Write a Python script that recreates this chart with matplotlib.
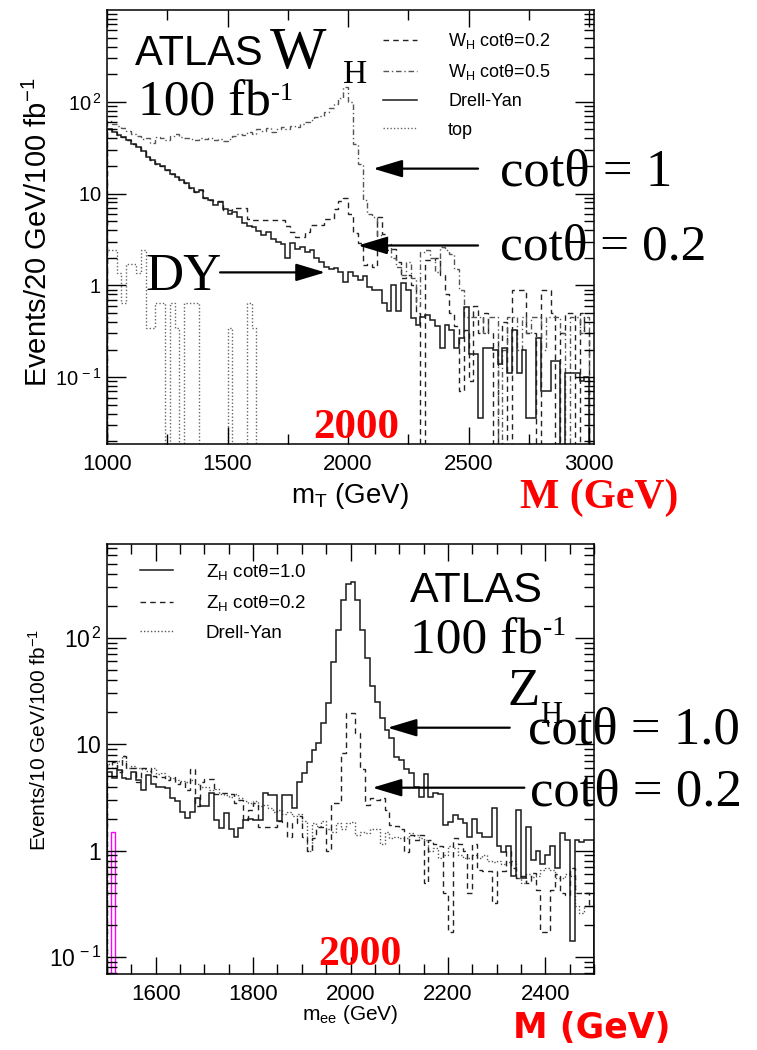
import numpy as np
import matplotlib.pyplot as plt
from matplotlib.lines import Line2D
from matplotlib.ticker import FixedLocator, FixedFormatter, MultipleLocator, LogLocator, NullFormatter

# ---- top panel: W_H -> e nu, m_T, 20 GeV bins from 1000 to 3000 ----
edges_wh = np.arange(1000, 3001, 20)

dy_wh = [51, 47, 44, 41, 38, 35, 32, 29, 25, 23,
         21, 20, 18, 16.5, 15, 14, 13, 11.5, 10.5, 11,
         9.0, 8.5, 7.5, 8.0, 6.8, 6.0, 6.3, 5.5, 4.8, 4.4,
         4.3, 3.9, 3.5, 3.8, 3.2, 3.0, 2.8, 2.0, 2.9, 2.5,
         2.6, 2.3, 2.4, 2.0, 1.8, 1.6, 1.5, 1.55, 1.4, 1.1,
         1.4, 1.25, 1.15, 1.25, 0.95, 0.88, 0.88, 0.65, 0.52, 1.0,
         0.52, 1.07, 0.9, 0.44, 0.37, 0.45, 0.48, 0.42, 0.36, 0.21,
         0.37, 0.33, 0.21, 0.27, 0.58, 0.18, 0.18, 0.036, 0.21, 0.21,
         0.2, 0.14, 0.21, 0.11, 0.33, 0.11, 0.2, 0.036, 0.036, 0.27,
         0.07, 0.07, 0.15, 0.15, 0, 0.11, 0.11, 0.11, 0.09, 0.1]

wh_cot05 = [62, 58, 55, 52, 48, 45, 42, 39, 40, 36,
            41, 40, 38, 42, 45, 41, 40, 39, 38, 40,
            39, 40, 38, 39, 37, 39, 42, 45, 44, 47,
            45, 50, 48, 52, 47, 50, 53, 51, 55, 53,
            57, 60, 64, 68, 70, 78, 85, 95, 110, 145,
            100, 35, 21, 8.5, 6, 5.5, 3.5, 2.6, 2.8, 2.0,
            1.6, 1.3, 1.8, 1.2, 0.6, 2.3, 2.4, 2.0, 1.4, 2.6,
            2.4, 2.2, 1.5, 0.9, 0.45, 0.45, 0.45, 0.45, 0.3, 0.45,
            0.45, 0, 0.2, 0.45, 0.45, 0.2, 0.45, 0.3, 0.45, 0.45,
            0.2, 0.45, 0.45, 0.45, 0.3, 0, 0.45, 0.45, 0.3, 0.45]

wh_cot02 = [51, 47, 44, 41, 38, 35, 32, 29, 25, 23,
            21, 20, 18, 16.5, 15, 14, 13, 11.5, 10.5, 11,
            9.0, 8.5, 8.4, 8.4, 6.7, 6.7, 6.9, 6.9, 6.9, 5.3,
            5.1, 5.1, 5.1, 5.1, 5.1, 5.1, 5.1, 4.4, 3.8, 3.4,
            3.4, 3.8, 4.5, 4.5, 4.5, 5.3, 5.3, 6.8, 8.4, 9.0,
            6.0, 3.7, 2.9, 1.65, 1.7, 1.6, 5.5, 3.6, 2.4, 2.5,
            1.8, 1.2, 1.3, 1.0, 0.5, 0, 1.9, 1.9, 2.0, 1.3,
            0.8, 0.5, 0.36, 0.07, 0.33, 0.09, 0.6, 0.3, 0.5, 0.3,
            0, 0.25, 0.4, 0, 0.9, 0.9, 0.9, 0.3, 0.3, 0,
            0.9, 0.9, 0.5, 0, 0.3, 0.5, 0.5, 0, 0.5, 0.3]

top_wh = [2.4, 2.4, 1.35, 0.65, 1.7, 1.7, 1.35, 2.4, 0.34, 0.34,
          0.65, 0.65, 0, 0.65, 0.34, 0, 0.65, 0.65, 0.65, 0,
          0, 0, 0, 0, 0, 0.34, 0, 0, 0, 0.65,
          0.34] + [0] * 69

# ---- bottom panel: Z_H -> ee, m_ee, 10 GeV bins from 1500 to 2500 ----
edges_zh = np.arange(1500, 2501, 10)

zh_cot10 = [5.5, 4.8, 5.7, 4.8, 4.7, 5.5, 4.6, 3.7, 5.1, 4.2,
            4.0, 4.0, 3.9, 3.15, 2.9, 2.3, 2.04, 2.3, 3.1, 2.6,
            2.6, 3.5, 1.95, 1.64, 2.25, 1.6, 1.35, 1.64, 1.95, 2.0,
            1.95, 1.95, 3.5, 3.3, 3.3, 1.9, 3.3, 3.3, 2.5, 4.4,
            5.4, 6.8, 8.9, 10.3, 15.9, 24.5, 59, 119, 228, 320,
            335, 228, 119, 65, 35, 25, 17.7, 13.7, 11.5, 7.6,
            7.1, 5.8, 5.4, 4.0, 3.2, 5.3, 3.2, 3.5, 3.4, 1.75,
            1.85, 2.15, 2.0, 1.8, 1.35, 2.0, 1.45, 1.35, 1.35, 2.5,
            1.1, 0.96, 1.1, 0.57, 2.4, 0.55, 1.65, 0.82, 1.0, 0.75,
            0.9, 1.1, 0.69, 1.47, 1.25, 0.14, 1.25, 1.2, 1.25, 1.25]

zh_cot02 = [6.5, 6.8, 5.5, 7.7, 6.0, 6.0, 4.4, 6.0, 6.0, 5.0,
            4.9, 4.9, 4.6, 4.9, 4.2, 4.4, 3.7, 5.8, 2.6, 4.4,
            4.7, 4.7, 3.4, 3.5, 3.5, 3.4, 2.8, 3.0, 1.95, 2.4,
            2.8, 1.65, 1.65, 1.65, 1.65, 1.9, 1.85, 1.33, 1.8, 2.1,
            1.33, 1.0, 1.3, 1.65, 1.65, 1.0, 2.8, 2.8, 8.3, 19.7,
            19.7, 12.8, 5.8, 2.7, 3.1, 3.0, 3.1, 2.4, 1.75, 1.7,
            1.6, 0.96, 1.4, 1.25, 1.4, 0.5, 1.25, 1.15, 1.1, 0.4,
            0.17, 1.3, 1.15, 1.0, 0.4, 1.15, 0.66, 0.64, 0.64, 0.32,
            0.64, 0.64, 1.0, 0.68, 0.55, 0.58, 0.5, 0.62, 0.43, 0.17,
            0.17, 0.43, 0.6, 0.4, 0.38, 0.68, 0.4, 0.4, 0.4, 0.3]

dy_zh = [6.5, 6.0, 7.0, 7.7, 6.0, 6.2, 6.0, 5.8, 5.6, 6.0,
         5.2, 5.4, 5.0, 4.8, 4.6, 4.5, 4.4, 4.6, 4.2, 4.0,
         4.0, 3.7, 3.8, 3.4, 3.3, 3.2, 3.4, 3.1, 2.9, 2.8,
         2.9, 2.6, 2.7, 2.5, 2.3, 2.4, 2.2, 2.3, 2.1, 2.2,
         1.9, 1.0, 1.8, 1.7, 1.9, 1.6, 1.5, 1.8, 1.6, 1.8,
         1.85, 1.4, 1.5, 1.45, 1.6, 1.6, 1.15, 1.5, 1.3, 1.35,
         1.3, 1.3, 1.45, 1.4, 1.3, 1.25, 1.0, 1.05, 0.85, 0.9,
         1.1, 1.05, 0.9, 0.85, 0.85, 0.9, 0.85, 0.9, 0.8, 0.78,
         0.8, 0.75, 0.78, 0.8, 0.55, 0.5, 0.6, 0.56, 0.58, 0.65,
         0.68, 0.66, 0.55, 0.55, 0.6, 0.58, 0.3, 0.26, 0.3, 0.3]

# stray magenta bin at the left edge of the lower plot
magenta_edges = [1508, 1516]
magenta_val = [1.5]

plt.rcParams.update({
    'font.family': ['Liberation Sans', 'DejaVu Sans'],
    'mathtext.fontset': 'custom',
    'mathtext.rm': 'Liberation Sans',
    'mathtext.it': 'Liberation Sans:italic',
    'mathtext.bf': 'Liberation Sans:bold',
    'axes.linewidth': 1.1,
})

FW, FH = 757, 1050
fig = plt.figure(figsize=(FW / 100, FH / 100), dpi=100)


def fp(x, y):
    # pixel position (from top-left) -> figure fraction
    return x / FW, 1 - y / FH


def nz(v):
    # empty bins drop below the axis like in the original
    v = np.asarray(v, dtype=float)
    return np.where(v > 0, v, 1e-4)


DASH = (0, (4, 3))
DASHDOT = (0, (4, 2, 1, 2))
DOT = (0, (1, 1.5))
SERIF = 'Liberation Serif'
RED = '#ff0000'


def style_axes(ax, ylabels, ysize):
    ax.set_yscale('log')
    ax.yaxis.set_major_locator(FixedLocator([0.1, 1, 10, 100]))
    ax.yaxis.set_major_formatter(FixedFormatter(ylabels))
    ax.yaxis.set_minor_locator(LogLocator(base=10, subs=np.arange(2, 10)))
    ax.yaxis.set_minor_formatter(NullFormatter())
    ax.tick_params(which='both', direction='in', top=True, right=True, width=1.0)
    ax.tick_params(axis='y', which='major', length=14, labelsize=ysize, pad=4)
    ax.tick_params(axis='y', which='minor', length=7)


ylabs = [r'$10^{\,-1}$', r'$1\;\;\;$', r'$10\;\;\;$', r'$10^{\,2}$']

# ================= top panel =================
ax1 = fig.add_axes([107 / FW, 1 - 444 / FH, 487 / FW, 434 / FH])
ax1.stairs(nz(top_wh), edges_wh, color='#666666', lw=1.0, ls=DOT)
ax1.stairs(nz(wh_cot02), edges_wh, color='#222222', lw=1.0, ls=DASH)
ax1.stairs(nz(wh_cot05), edges_wh, color='#555555', lw=1.0, ls=DASHDOT)
ax1.stairs(nz(dy_wh), edges_wh, color='#1a1a1a', lw=1.1)
ax1.set_xlim(1000, 3020)
ax1.set_ylim(0.0187, 1000)
style_axes(ax1, ylabs, 14.5)
ax1.xaxis.set_major_locator(MultipleLocator(500))
ax1.xaxis.set_minor_locator(MultipleLocator(250))
ax1.tick_params(axis='x', which='major', length=12, labelsize=16, pad=7)
ax1.tick_params(axis='x', which='minor', length=7)
ax1.set_xlabel(r'm$_{\mathrm{T}}$ (GeV)', fontsize=20, va='top')
ax1.xaxis.set_label_coords((350 - 107) / 487, -(481 - 444) / 434)
ax1.set_ylabel('Events/20 GeV/100 fb$^{-1}$', fontsize=21)
ax1.yaxis.set_label_coords(-(107 - 53) / 487, (444 - 232) / 434)

h1 = [Line2D([], [], color='#222222', lw=1.0, ls=DASH),
      Line2D([], [], color='#555555', lw=1.0, ls=DASHDOT),
      Line2D([], [], color='#1a1a1a', lw=1.1),
      Line2D([], [], color='#666666', lw=1.0, ls=DOT)]
ax1.legend(h1, [r'W$_{\mathrm{H}}$ cotθ=0.2', r'W$_{\mathrm{H}}$ cotθ=0.5', 'Drell-Yan', 'top'],
           loc='upper left', bbox_to_anchor=fp(383, 31), bbox_transform=fig.transFigure,
           frameon=False, fontsize=13, handlelength=1.9, handletextpad=1.7,
           labelspacing=0.62, borderpad=0, borderaxespad=0)

arr = dict(arrowstyle='-|>,head_length=1.0,head_width=0.3', color='k', lw=1.6,
           shrinkA=0, shrinkB=0, mutation_scale=18)
ax1.annotate('', xy=(2104, 18.7), xytext=(2539, 18.7), arrowprops=arr)
ax1.annotate('', xy=(2041, 2.72), xytext=(2539, 2.72), arrowprops=arr)
ax1.annotate('', xy=(1905, 1.385), xytext=(1469, 1.385), arrowprops=arr)

fig.text(*fp(135, 65), 'ATLAS', fontsize=30, va='baseline')
fig.text(*fp(270, 68), 'W', family=SERIF, fontsize=43, va='baseline')
fig.text(*fp(343, 83), 'H', family=SERIF, fontsize=24, va='baseline')
fig.text(*fp(138, 115), '100 fb', family=SERIF, fontsize=37, va='baseline')
fig.text(*fp(271, 100), '-1', family=SERIF, fontsize=19, va='baseline')
fig.text(*fp(500, 186), 'cotθ = 1', family=SERIF, fontsize=38, va='baseline')
fig.text(*fp(500, 260), 'cotθ = 0.2', family=SERIF, fontsize=37, va='baseline')
fig.text(*fp(145, 290), 'DY', family=SERIF, fontsize=38, va='baseline')
fig.text(*fp(313, 438), '2000', family=SERIF, weight='bold', color=RED, fontsize=31, va='baseline')
fig.text(*fp(520, 508), 'M (GeV)', family=SERIF, weight='bold', color=RED, fontsize=30, va='baseline')

# ================= bottom panel =================
ax2 = fig.add_axes([107 / FW, 1 - 974 / FH, 487 / FW, 430 / FH])
ax2.stairs(nz(dy_zh), edges_zh, color='#555555', lw=1.0, ls=DOT)
ax2.stairs(nz(zh_cot02), edges_zh, color='#222222', lw=1.0, ls=DASH)
ax2.stairs(nz(zh_cot10), edges_zh, color='#1a1a1a', lw=1.1)
ax2.stairs(magenta_val, magenta_edges, baseline=1e-3, color='#ff00ff', lw=1.0)
ax2.set_xlim(1500, 2500)
ax2.set_ylim(0.069, 764)
style_axes(ax2, ylabs, 16.5)
ax2.xaxis.set_major_locator(MultipleLocator(200))
ax2.xaxis.set_minor_locator(MultipleLocator(50))
ax2.tick_params(axis='x', which='major', length=12, labelsize=16, pad=7)
ax2.tick_params(axis='x', which='minor', length=7)
ax2.set_xlabel(r'm$_{\mathrm{ee}}$ (GeV)', fontsize=15, va='top')
ax2.xaxis.set_label_coords((350 - 107) / 487, -(1003 - 974) / 430)
ax2.set_ylabel('Events/10 GeV/100 fb$^{-1}$', fontsize=15)
ax2.yaxis.set_label_coords(-(107 - 50) / 487, (974 - 740) / 430)

h2 = [Line2D([], [], color='#1a1a1a', lw=1.1),
      Line2D([], [], color='#222222', lw=1.0, ls=DASH),
      Line2D([], [], color='#555555', lw=1.0, ls=DOT)]
ax2.legend(h2, [r'Z$_{\mathrm{H}}$ cotθ=1.0', r'Z$_{\mathrm{H}}$ cotθ=0.2', 'Drell-Yan'],
           loc='upper left', bbox_to_anchor=fp(140, 562), bbox_transform=fig.transFigure,
           frameon=False, fontsize=13.5, handlelength=1.75, handletextpad=1.75,
           labelspacing=0.6, borderpad=0, borderaxespad=0)

ax2.annotate('', xy=(2076, 14.3), xytext=(2327, 14.3), arrowprops=arr)
ax2.annotate('', xy=(2045, 3.9), xytext=(2357, 3.9), arrowprops=arr)

fig.text(*fp(410, 602), 'ATLAS', fontsize=31, va='baseline')
fig.text(*fp(410, 653), '100 fb', family=SERIF, fontsize=37, va='baseline')
fig.text(*fp(543, 635), '-1', family=SERIF, fontsize=20, va='baseline')
fig.text(*fp(507, 705), 'Z', family=SERIF, fontsize=38, va='baseline')
fig.text(*fp(540, 723), 'H', family=SERIF, fontsize=22, va='baseline')
fig.text(*fp(528, 743), 'cotθ = 1.0', family=SERIF, fontsize=38, va='baseline')
fig.text(*fp(530, 806), 'cotθ = 0.2', family=SERIF, fontsize=38, va='baseline')
fig.text(*fp(318, 965), '2000', family=SERIF, weight='bold', color=RED, fontsize=30, va='baseline')
fig.text(*fp(513, 1038), 'M (GeV)', family='DejaVu Sans', weight='bold', color=RED, fontsize=25, va='baseline')

fig.savefig('out.png', dpi=100)
